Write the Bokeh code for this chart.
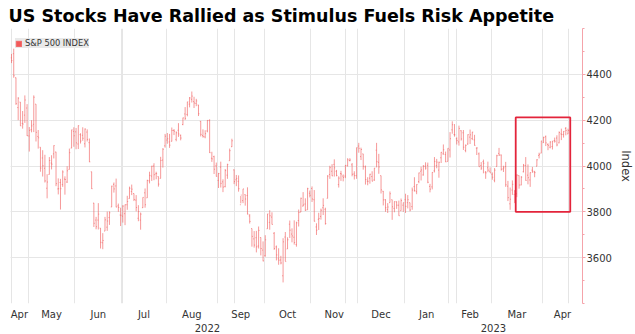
import pandas as pd
from bokeh.plotting import figure
from bokeh.models import (ColumnDataSource, FixedTicker, LinearAxis, Range1d,
                          Legend, LegendItem, Grid)
from bokeh.embed import file_html
from bokeh.resources import INLINE

TITLE = "US Stocks Have Rallied as Stimulus Fuels Risk Appetite"
SERIES = "S&P 500 INDEX"
AXIS_LABEL = "Index"
START, END = "2022-04-20", "2023-04-19"
HOLIDAYS = ["2022-05-30", "2022-06-20", "2022-07-04", "2022-09-05", "2022-11-24",
            "2022-12-26", "2023-01-02", "2023-01-16", "2023-02-20", "2023-04-07"]
MONTHS = ["Jan", "Feb", "Mar", "Apr", "May", "Jun", "Jul", "Aug", "Sep", "Oct", "Nov", "Dec"]
Y_TICKS = [3600, 3800, 4000, 4200, 4400]
Y_MIN, Y_MAX = 3400, 4600
HIGHLIGHT_FIRST, HIGHLIGHT_LAST = "2023-03-16", "2023-04-19"
HIGHLIGHT_LOW, HIGHLIGHT_HIGH = 3800, 4212

open_ = [
    # Apr 2022
    4472, 4490, 4385, 4255, 4279, 4186, 4222, 4253,
    # May
    4131, 4159, 4182, 4270, 4129, 4082, 4035, 3990, 3903, 3963, 4013, 4053, 4061, 3900, 3928,
    3919, 3943, 3930, 3985, 4078, 4151,
    # Jun
    4149, 4096, 4137, 4134, 4097, 4148, 4102, 3975, 3838, 3764, 3764, 3729, 3665, 3716, 3733,
    3775, 3821, 3920, 3913, 3826, 3786,
    # Jul
    3781, 3792, 3831, 3858, 3889, 3880, 3851, 3772, 3764, 3818, 3883, 3861, 3935, 3956, 4000,
    3966, 3954, 3946, 4026, 4088,
    # Aug
    4113, 4105, 4108, 4155, 4116, 4156, 4134, 4181, 4227, 4225, 4270, 4291, 4281, 4273, 4266,
    4195, 4133, 4127, 4153, 4198, 4034, 4041, 4001,
    # Sep
    3937, 3995, 3931, 3910, 3960, 4023, 4084, 3983, 3940, 3933, 3831, 3849, 3875, 3871, 3782,
    3727, 3682, 3687, 3651, 3688, 3633,
    # Oct
    3609, 3726, 3754, 3777, 3706, 3647, 3595, 3590, 3521, 3690, 3638, 3746, 3703, 3689, 3657,
    3762, 3799, 3825, 3834, 3809, 3881,
    # Nov
    3902, 3853, 3734, 3767, 3780, 3818, 3811, 3859, 3963, 3977, 4007, 3977, 3919, 3967, 3956,
    3956, 4001, 4024, 4005, 3965, 3958,
    # Dec
    4087, 4041, 4053, 3996, 3934, 3947, 3954, 3939, 4069, 4016, 3958, 3890, 3853, 3810, 3840,
    3853, 3815, 3843, 3829, 3805, 3829,
    # Jan 2023
    3853, 3840, 3840, 3823, 3910, 3888, 3932, 3977, 3961, 3999, 4003, 3911, 3909, 3979, 4002,
    3982, 4036, 4053, 4050, 4020,
    # Feb
    4070, 4158, 4137, 4119, 4105, 4154, 4145, 4068, 4096, 4126, 4120, 4114, 4078, 4053, 4002,
    4019, 3973, 3992, 3977,
    # Mar
    3964, 3938, 3998, 4055, 4048, 3987, 3998, 3912, 3835, 3895, 3876, 3879, 3958, 3917, 3975,
    4002, 3960, 3939, 3982, 3974, 3999, 4046, 4056,
    # Apr
    4102, 4128, 4094, 4082, 4085, 4111, 4122, 4101, 4140, 4137, 4164, 4140,
]
high = [
    4489, 4512, 4386, 4300, 4279, 4240, 4308, 4270,
    4170, 4200, 4308, 4270, 4157, 4082, 4069, 4049, 3964, 4039, 4047, 4090, 4062, 3946, 3944,
    3981, 3955, 3999, 4076, 4158, 4169,
    4166, 4177, 4143, 4169, 4164, 4160, 4120, 3975, 3839, 3778, 3838, 3729, 3707, 3778, 3801,
    3802, 3914, 3928, 3945, 3836, 3818,
    3829, 3832, 3870, 3910, 3919, 3880, 3873, 3829, 3797, 3863, 3902, 3940, 3975, 4001, 4012,
    3975, 3954, 4040, 4078, 4140,
    4144, 4140, 4168, 4161, 4151, 4187, 4137, 4211, 4257, 4280, 4301, 4325, 4302, 4293, 4267,
    4196, 4160, 4156, 4200, 4204, 4062, 4045, 4015,
    3970, 4019, 3942, 3987, 4010, 4076, 4119, 3985, 3961, 3959, 3869, 3900, 3876, 3907, 3790,
    3727, 3716, 3717, 3736, 3688, 3671,
    3698, 3791, 3807, 3798, 3712, 3653, 3641, 3608, 3685, 3712, 3689, 3762, 3728, 3763, 3757,
    3810, 3862, 3886, 3859, 3905, 3893,
    3911, 3895, 3750, 3796, 3814, 3859, 3818, 3960, 4001, 4008, 4029, 3983, 3955, 3979, 3963,
    4004, 4034, 4034, 4013, 3977, 4080,
    4101, 4080, 4053, 4002, 3951, 3966, 3977, 3991, 4101, 4053, 3958, 3891, 3855, 3838, 3889,
    3853, 3845, 3846, 3849, 3858, 3840,
    3879, 3873, 3840, 3906, 3951, 3920, 3971, 3997, 4004, 4016, 4015, 3922, 3973, 4039, 4031,
    4019, 4061, 4094, 4063, 4077,
    4148, 4195, 4183, 4125, 4176, 4156, 4157, 4094, 4138, 4159, 4149, 4136, 4081, 4059, 4017,
    4028, 3978, 4019, 3994,
    3972, 3991, 4049, 4079, 4050, 4001, 4018, 3935, 3906, 3937, 3894, 3964, 3959, 3956, 4009,
    4039, 4007, 3972, 3996, 3979, 4030, 4058, 4110,
    4128, 4133, 4099, 4108, 4109, 4124, 4134, 4151, 4163, 4152, 4170, 4163,
]
low = [
    4449, 4385, 4267, 4200, 4175, 4163, 4188, 4131,
    4063, 4147, 4148, 4107, 4076, 3975, 3954, 3928, 3859, 3963, 3985, 4033, 3912, 3876, 3810,
    3909, 3875, 3926, 3985, 4078, 4084,
    4073, 4074, 4098, 4110, 4081, 4107, 4017, 3900, 3734, 3724, 3723, 3640, 3637, 3716, 3717,
    3743, 3821, 3884, 3820, 3800, 3738,
    3753, 3742, 3809, 3858, 3873, 3847, 3802, 3759, 3722, 3817, 3818, 3861, 3924, 3935, 3938,
    3942, 3910, 3946, 3993, 4080,
    4097, 4079, 4107, 4135, 4108, 4127, 4112, 4178, 4201, 4217, 4256, 4277, 4253, 4261, 4218,
    4129, 4124, 4121, 4147, 4057, 4018, 3965, 3954,
    3904, 3906, 3886, 3907, 3944, 4023, 4083, 3921, 3912, 3888, 3837, 3838, 3827, 3789, 3749,
    3648, 3644, 3623, 3640, 3610, 3584,
    3604, 3726, 3722, 3745, 3634, 3588, 3569, 3571, 3492, 3584, 3638, 3686, 3667, 3657, 3648,
    3736, 3799, 3824, 3804, 3809, 3863,
    3843, 3758, 3699, 3721, 3766, 3786, 3744, 3859, 3944, 3956, 3954, 3955, 3906, 3935, 3933,
    3947, 3998, 4020, 3955, 3941, 3944,
    4058, 4026, 3984, 3919, 3916, 3923, 3933, 3935, 3994, 3966, 3880, 3828, 3800, 3795, 3840,
    3765, 3798, 3813, 3783, 3805, 3800,
    3795, 3815, 3802, 3809, 3888, 3877, 3925, 3937, 3958, 3984, 3925, 3885, 3898, 3972, 3990,
    3949, 4013, 4049, 4017, 4020,
    4037, 4141, 4128, 4094, 4089, 4111, 4070, 4060, 4093, 4096, 4113, 4089, 4048, 3997, 3983,
    3968, 3944, 3973, 3970,
    3940, 3929, 3998, 4044, 3980, 3974, 3909, 3847, 3809, 3874, 3838, 3864, 3901, 3916, 3972,
    3936, 3920, 3909, 3970, 3951, 3999, 4033, 4056,
    4101, 4087, 4069, 4077, 4072, 4102, 4086, 4099, 4113, 4124, 4134, 4140,
]
close = [
    4460, 4394, 4272, 4296, 4175, 4183, 4288, 4132,
    4155, 4175, 4300, 4147, 4123, 3991, 4001, 3935, 3930, 4024, 4008, 4089, 3923, 3901, 3901,
    3974, 3941, 3979, 4058, 4158, 4132,
    4101, 4176, 4109, 4121, 4161, 4116, 4018, 3901, 3750, 3735, 3790, 3667, 3675, 3765, 3760,
    3796, 3912, 3900, 3821, 3819, 3785,
    3825, 3831, 3845, 3903, 3899, 3854, 3819, 3801, 3790, 3863, 3831, 3937, 3959, 3999, 3962,
    3967, 3921, 4024, 4073, 4130,
    4119, 4091, 4155, 4152, 4145, 4140, 4122, 4210, 4208, 4280, 4297, 4305, 4275, 4284, 4228,
    4138, 4128, 4141, 4199, 4058, 4031, 3986, 3955,
    3967, 3924, 3908, 3980, 4006, 4067, 4110, 3932, 3946, 3901, 3873, 3900, 3856, 3790, 3758,
    3693, 3655, 3647, 3719, 3640, 3586,
    3678, 3791, 3783, 3745, 3640, 3612, 3589, 3577, 3669, 3583, 3678, 3720, 3695, 3666, 3752,
    3797, 3859, 3830, 3807, 3901, 3872,
    3856, 3759, 3720, 3771, 3807, 3828, 3749, 3956, 3993, 3957, 3992, 3959, 3947, 3965, 3950,
    4003, 4027, 4026, 3964, 3958, 4080,
    4077, 4072, 3999, 3941, 3933, 3964, 3934, 3991, 4019, 3996, 3896, 3852, 3818, 3821, 3879,
    3822, 3845, 3829, 3783, 3849, 3840,
    3824, 3853, 3808, 3895, 3893, 3919, 3970, 3983, 3999, 3991, 3929, 3899, 3972, 4020, 4017,
    4016, 4060, 4071, 4018, 4077,
    4119, 4180, 4136, 4111, 4164, 4118, 4082, 4090, 4137, 4136, 4148, 4090, 4079, 3997, 3991,
    4012, 3970, 3982, 3970,
    3951, 3982, 4045, 4048, 3986, 3992, 3918, 3862, 3855, 3920, 3892, 3960, 3917, 3951, 4003,
    3937, 3949, 3971, 3977, 3971, 4027, 4051, 4109,
    4124, 4101, 4090, 4105, 4109, 4108, 4092, 4146, 4138, 4151, 4155, 4155,
]

# ---- trading-day index axis ----
dates = pd.bdate_range(START, END)
dates = dates[~dates.isin(pd.to_datetime(HOLIDAYS))]
n = len(close)
assert len(dates) == n == len(open_) == len(high) == len(low)
idx = list(range(n))
x_lo, x_hi = -0.45, n + 5.5

df = pd.DataFrame({"d": dates, "i": idx})
ym = df["d"].dt.to_period("M")
firsts = df.groupby(ym)["i"].min()
bounds = [v - 0.5 for v in firsts.values[1:]]
edges = [x_lo] + bounds + [x_hi]
month_lab = {}
for k, per in enumerate(firsts.index):
    c = (edges[k] + edges[k + 1]) / 2
    month_lab[c] = MONTHS[per.month - 1]
yr = df.groupby(df["d"].dt.year)["i"].min()
yr_edges = [x_lo] + [v - 0.5 for v in yr.values[1:]] + [x_hi]
year_lab = {}
for k, y in enumerate(yr.index):
    year_lab[(yr_edges[k] + yr_edges[k + 1]) / 2] = str(y)

src = ColumnDataSource(dict(
    x=idx, xl=[i - 0.4 for i in idx], xr=[i + 0.4 for i in idx],
    o=open_, h=high, l=low, c=close))

BAR = "#f05a5a"
p = figure(width=635, height=334, output_backend="svg", toolbar_location=None,
           x_axis_location=None, y_axis_location=None,
           x_range=Range1d(x_lo, x_hi), y_range=Range1d(Y_MIN, Y_MAX),
           min_border_left=10, min_border_right=52, min_border_top=0, min_border_bottom=0)
p.outline_line_color = None
p.background_fill_color = "white"

p.title.text = TITLE
p.title.text_font = "DejaVu Sans"
p.title.text_font_size = "17.5px"
p.title.text_font_style = "bold"
p.title.text_color = "#000000"
p.title.offset = -2
p.title.standoff = 6

p.add_layout(Grid(dimension=0, ticker=FixedTicker(ticks=bounds),
                  grid_line_color="#e6e6e6", grid_line_width=1))
p.add_layout(Grid(dimension=1, ticker=FixedTicker(ticks=list(range(Y_MIN, Y_MAX + 1, 200))),
                  grid_line_color="#e6e6e6", grid_line_width=1))

p.segment(x0="x", y0="l", x1="x", y1="h", source=src, line_color=BAR, line_width=1, line_alpha=0.62)
p.segment(x0="xl", y0="o", x1="x", y1="o", source=src, line_color=BAR, line_width=1, line_alpha=0.62)
p.segment(x0="x", y0="c", x1="xr", y1="c", source=src, line_color=BAR, line_width=1, line_alpha=0.62)

i_first = int(df.loc[df["d"] == pd.Timestamp(HIGHLIGHT_FIRST), "i"].iloc[0])
i_last = int(df.loc[df["d"] == pd.Timestamp(HIGHLIGHT_LAST), "i"].iloc[0])
p.quad(left=[i_first - 0.5], right=[i_last + 1.0], bottom=[HIGHLIGHT_LOW], top=[HIGHLIGHT_HIGH],
       fill_color=None, line_color="#e3243b", line_width=1.8)

# legend (proxy glyph with no visible data)
nan = float("nan")
dummy = p.quad(left=[nan], right=[nan], bottom=[nan], top=[nan],
               fill_color="#f25a5a", fill_alpha=1.0, line_color="#f25a5a", line_width=0.5)
leg = Legend(items=[LegendItem(label=SERIES, renderers=[dummy])], location=(5, 255),
             background_fill_color="#e9e9e9", background_fill_alpha=1.0,
             border_line_color=None, padding=5, margin=0, spacing=0,
             glyph_width=7, glyph_height=7, label_standoff=3, label_height=7,
             label_text_font="DejaVu Sans", label_text_font_size="8.3px",
             label_text_color="#333333")
p.add_layout(leg)

# axes
TXT = "#333333"
PINK = "#f5a3aa"
yax = LinearAxis(ticker=FixedTicker(ticks=Y_TICKS, minor_ticks=list(range(Y_MIN, Y_MAX + 1, 100))),
                 axis_label=AXIS_LABEL)
yax.axis_line_color = PINK
yax.major_tick_line_color = PINK
yax.minor_tick_line_color = PINK
yax.major_tick_out = 3
yax.major_tick_in = 0
yax.minor_tick_out = 2
yax.minor_tick_in = 0
yax.major_label_standoff = 1
yax.major_label_text_font = "DejaVu Sans"
yax.major_label_text_font_size = "10px"
yax.major_label_text_color = TXT
yax.axis_label_text_font = "DejaVu Sans"
yax.axis_label_text_font_size = "11.5px"
yax.axis_label_text_font_style = "normal"
yax.axis_label_text_color = TXT
yax.axis_label_standoff = 4
p.add_layout(yax, "right")

def label_axis(ticks_map, standoff):
    ax = LinearAxis(ticker=FixedTicker(ticks=list(ticks_map.keys())),
                    major_label_overrides=ticks_map)
    ax.axis_line_color = None
    ax.major_tick_line_color = None
    ax.minor_tick_line_color = None
    ax.major_tick_out = 0
    ax.major_tick_in = 0
    ax.major_label_standoff = standoff
    ax.major_label_text_font = "DejaVu Sans"
    ax.major_label_text_font_size = "10px"
    ax.major_label_text_color = TXT
    return ax

p.add_layout(label_axis(month_lab, 5), "below")
p.add_layout(label_axis(year_lab, 1), "below")

open("out.html", "w").write(file_html(p, INLINE))
